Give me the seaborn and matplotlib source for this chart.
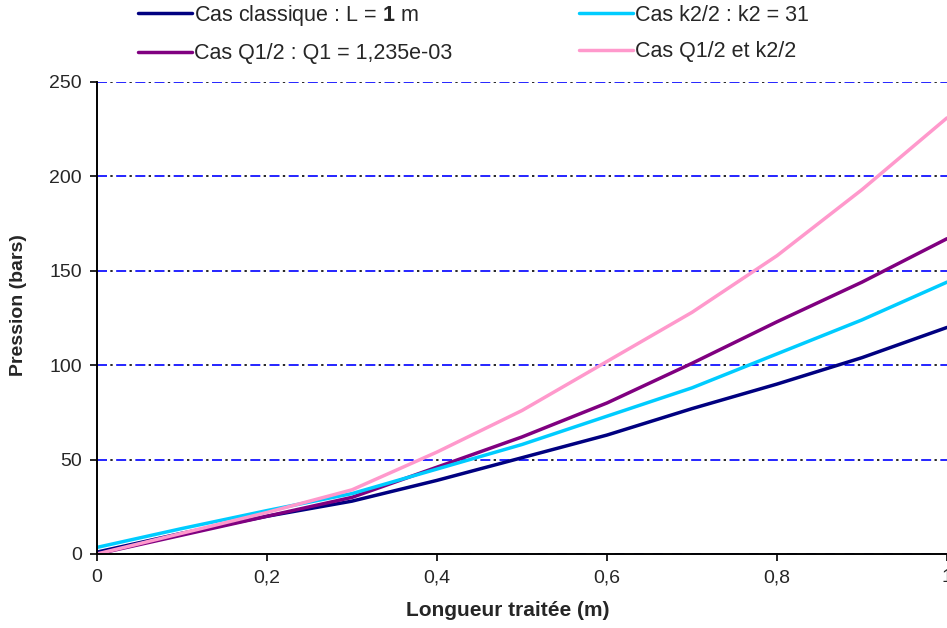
import numpy as np
import pandas as pd
import matplotlib
matplotlib.use("Agg")
import matplotlib.pyplot as plt
import seaborn as sns

# Values
longueur = [0.0, 0.1, 0.2, 0.3, 0.4, 0.5, 0.6, 0.7, 0.8, 0.9, 1.0]
p_classique = [1, 11, 20, 28, 39, 51, 63, 77, 90, 104, 120]
p_k2 = [3.5, 13.5, 23, 32, 45, 58, 73, 88, 106, 124, 144]
p_q1 = [0, 10, 20, 30, 46, 62, 80, 101, 123, 144, 167]
p_q1_k2 = [0, 11, 22, 34, 54, 76, 102, 128, 158, 193, 231]

series_labels = [
    "Cas classique : L = $\\mathbf{1}$ m",
    "Cas Q1/2 : Q1 = 1,235e-03",
    "Cas k2/2 : k2 = 31",
    "Cas Q1/2 et k2/2",
]
series_values = [p_classique, p_q1, p_k2, p_q1_k2]
series_colors = ["#000080", "#800080", "#00CCFF", "#FF99CC"]

x_ticks = [0, 0.2, 0.4, 0.6, 0.8, 1.0]
x_ticklabels = ["0", "0,2", "0,4", "0,6", "0,8", "1"]
y_ticks = [0, 50, 100, 150, 200, 250]

rows = []
for label, vals in zip(series_labels, series_values):
    for x, y in zip(longueur, vals):
        rows.append({"Longueur": x, "Pression": y, "Série": label})
df = pd.DataFrame(rows)

sns.set_style("white")
plt.rcParams["font.family"] = ["Liberation Sans", "DejaVu Sans"]
plt.rcParams["mathtext.fontset"] = "custom"
plt.rcParams["mathtext.bf"] = "Liberation Sans:bold"
plt.rcParams["mathtext.rm"] = "Liberation Sans"

fig = plt.figure(figsize=(9.47, 6.28), dpi=100)
ax = fig.add_axes([97 / 947, 74 / 628, 850 / 947, 472 / 628])

sns.lineplot(
    data=df, x="Longueur", y="Pression", hue="Série",
    hue_order=series_labels, palette=series_colors,
    linewidth=2.5, ax=ax, errorbar=None, zorder=3,
)

ax.set_xlim(0, 1)
ax.set_ylim(0, 250)
ax.set_xticks(x_ticks)
ax.set_xticklabels(x_ticklabels)
ax.set_yticks(y_ticks)
ax.tick_params(axis="both", labelsize=14, length=5, width=1.2, color="black",
               direction="out", left=True, bottom=True, pad=6)

# blue dashes with black dots in between, like the original grid
ax.yaxis.grid(True, color="#0000FF", linestyle=(0, (6, 5.5)), linewidth=1.2)
for yv in y_ticks[1:]:
    ax.axhline(yv, color="black", linestyle=(3.5, (1.4, 10.1)), linewidth=1.2, zorder=1)
ax.xaxis.grid(False)
ax.set_axisbelow(True)
for side in ["top", "right"]:
    ax.spines[side].set_visible(False)
for side in ["left", "bottom"]:
    ax.spines[side].set_color("black")
    ax.spines[side].set_linewidth(1.4)
    ax.spines[side].set_zorder(4)

ax.set_xlabel("Longueur traitée (m)", fontsize=15, fontweight="bold")
ax.xaxis.label.set_va("center")
ax.xaxis.set_label_coords((508 - 97) / 850, (554 - 610) / 472)
ax.set_ylabel("Pression (bars)", fontsize=14, fontweight="bold")
ax.yaxis.label.set_va("center")
ax.yaxis.set_label_coords((19 - 97) / 850, (554 - 305) / 472)

handles, labels = ax.get_legend_handles_labels()
ax.get_legend().remove()
fig.legend(
    handles, labels, loc="upper left", bbox_to_anchor=(138 / 947, 1 - 3 / 628),
    ncol=2, frameon=False, fontsize=15.5, handlelength=2.5, handletextpad=0.1,
    columnspacing=5.9, labelspacing=0.7, borderaxespad=0, borderpad=0,
)

fig.savefig("out.png", dpi=100)
